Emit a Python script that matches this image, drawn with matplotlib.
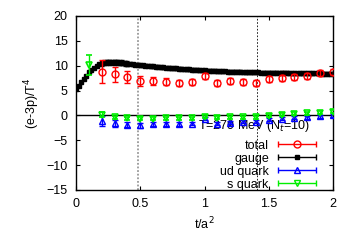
import numpy as np
import matplotlib
matplotlib.use("Agg")
import matplotlib.pyplot as plt
from matplotlib.container import ErrorbarContainer
from matplotlib.legend_handler import HandlerErrorbar

plt.rcParams['font.family'] = ['Liberation Sans', 'DejaVu Sans']
plt.rcParams['font.size'] = 9

# total (red circles) and quark pieces, t/a^2 = 0.2 ... 2.0
t_q = [0.2, 0.3, 0.4, 0.5, 0.6, 0.7, 0.8, 0.9, 1.0, 1.1,
       1.2, 1.3, 1.4, 1.5, 1.6, 1.7, 1.8, 1.9, 2.0]
total = [8.8, 8.3, 7.7, 7.0, 6.9, 6.8, 6.5, 6.8, 8.0, 6.6,
         6.9, 6.8, 6.6, 7.3, 7.6, 7.8, 8.0, 8.5, 8.8]
total_err = [2.3, 1.5, 1.2, 1.0, 0.8, 0.7, 0.6, 0.6, 0.6, 0.6,
             0.6, 0.6, 0.6, 0.6, 0.6, 0.6, 0.6, 0.6, 0.6]

ud = [-1.1, -1.6, -1.9, -2.0, -1.8, -1.7, -1.8, -1.7, -0.7, -1.7,
      -1.5, -1.3, -1.3, -0.9, -0.7, -0.5, -0.4, -0.2, 0.0]
ud_err = [1.0, 0.7, 0.5, 0.5, 0.4, 0.4, 0.4, 0.3, 0.3, 0.3,
          0.3, 0.3, 0.3, 0.3, 0.3, 0.3, 0.3, 0.3, 0.3]

t_s = [0.1, 0.2, 0.3, 0.4, 0.5, 0.6, 0.7, 0.8, 0.9, 1.0, 1.1,
       1.2, 1.3, 1.4, 1.5, 1.6, 1.7, 1.8, 1.9, 2.0]
s_quark = [10.1, 0.1, -0.4, -0.6, -0.7, -0.7, -0.6, -0.6, -0.6, -0.3, -0.5,
           -0.4, -0.4, -0.4, -0.1, 0.1, 0.3, 0.4, 0.5, 0.7]
s_err = [2.0, 0.5, 0.3, 0.3, 0.3, 0.3, 0.3, 0.3, 0.3, 0.3, 0.3,
         0.3, 0.3, 0.3, 0.3, 0.3, 0.3, 0.3, 0.3, 0.3]

# gauge part, dense in t (step 0.02)
t_g = np.round(np.arange(0, 101) * 0.02, 2)
gauge = [5.3, 6.0, 6.7, 7.4, 8.0, 8.7, 9.2, 9.6, 10.0, 10.3,
         10.5, 10.6, 10.7, 10.7, 10.7, 10.7, 10.65, 10.6, 10.55, 10.5,
         10.4, 10.35, 10.3, 10.2, 10.15, 10.1, 10.05, 10.0, 9.95, 9.9,
         9.85, 9.8, 9.75, 9.7, 9.65, 9.6, 9.55, 9.5, 9.5, 9.45,
         9.4, 9.35, 9.3, 9.3, 9.25, 9.2, 9.2, 9.15, 9.1, 9.1,
         9.05, 9.0, 9.0, 8.95, 8.95, 8.9, 8.9, 8.85, 8.85, 8.8,
         8.8, 8.8, 8.75, 8.75, 8.75, 8.7, 8.7, 8.7, 8.65, 8.65,
         8.65, 8.65, 8.6, 8.6, 8.6, 8.6, 8.6, 8.55, 8.55, 8.55,
         8.55, 8.55, 8.55, 8.5, 8.5, 8.5, 8.5, 8.5, 8.5, 8.5,
         8.5, 8.45, 8.45, 8.45, 8.45, 8.45, 8.4, 8.4, 8.4, 8.4, 8.4]
gauge_err = [0.1] * 10 + [0.5] * 11 + [0.3] * 80

fig = plt.figure(figsize=(3.54, 2.48), dpi=100)
ax = fig.add_axes([0.2147, 0.2339, 0.7260, 0.7016])

ax.axhline(0, color='black', lw=1.0, zorder=1)
ax.axvline(0.485, color='0.6', lw=1.3, ls=(0, (1, 1)), zorder=1)
ax.axvline(1.41, color='black', lw=0.6, ls=(0, (2, 2)), zorder=1)

ax.errorbar(t_g, gauge, yerr=gauge_err, fmt='s', color='black', ms=2.2,
            elinewidth=0.8, capsize=1.5, zorder=3)
ax.errorbar(t_q, total, yerr=total_err, fmt='o', color='red', mfc='none',
            ms=5, mew=1, elinewidth=1, capsize=2.5, zorder=4)
ax.errorbar(t_q, ud, yerr=ud_err, fmt='^', color='blue', mfc='none',
            ms=4.5, mew=1, elinewidth=1, capsize=2.5, zorder=5)
ax.errorbar(t_s, s_quark, yerr=s_err, fmt='v', color='#00ee00', mfc='none',
            ms=5, mew=1.2, elinewidth=1, capsize=2.5, zorder=6)

# gnuplot-like key entries (horizontal bars with caps)
keys = [('total', 'o', 'red', 5, 'none'),
        ('gauge', 's', 'black', 2.2, 'black'),
        ('ud quark', '^', 'blue', 4.5, 'none'),
        ('s quark', 'v', '#00ee00', 5, 'none')]
handles = []
for name, mk, col, ms, mfc in keys:
    h = ax.errorbar([np.nan], [np.nan], xerr=[1], fmt=mk, color=col, ms=ms,
                    mfc=mfc, mew=1, elinewidth=1, capsize=2.5, label=name)
    handles.append(h)
ax.legend(handles=handles, loc='lower right', bbox_to_anchor=(0.94, -0.005),
          frameon=False, markerfirst=False, handlelength=3.3,
          handletextpad=0.6, labelspacing=0.08, borderpad=0, borderaxespad=0,
          fontsize=9, handler_map={ErrorbarContainer: HandlerErrorbar(xerr_size=1.5)})

ax.text(0.95, -2.2, 'T=279 MeV (N$_t$=10)', fontsize=9, ha='left', va='center')

ax.set_xlim(0, 2)
ax.set_ylim(-15, 20)
ax.set_xticks([0, 0.5, 1, 1.5, 2])
ax.set_xticklabels(['0', '0.5', '1', '1.5', '2'])
ax.set_yticks([-15, -10, -5, 0, 5, 10, 15, 20])
ax.tick_params(direction='in', length=3, width=0.8, top=True, right=True, pad=6)
for sp in ax.spines.values():
    sp.set_linewidth(1.0)
ax.set_xlabel('t/a$^2$', labelpad=4)
ax.set_ylabel('(e-3p)/T$^4$', labelpad=3)

fig.savefig('out.png', dpi=100)
